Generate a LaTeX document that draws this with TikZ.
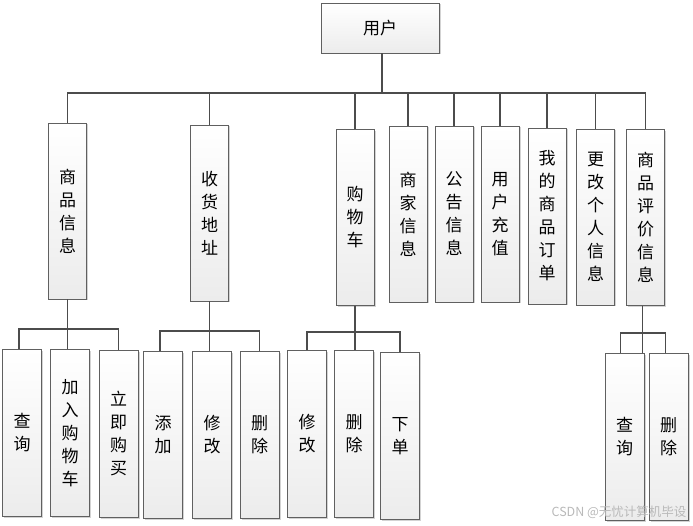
\documentclass[tikz,border=0pt]{standalone}
\usepackage{fontspec}
\newfontfamily\cjk{Noto Sans CJK SC}
\usetikzlibrary{calc,shadows}

\tikzset{
	box/.style={draw=gray!75!black, line width=0.9pt, top color=white, bottom color=gray!15,
		drop shadow={shadow xshift=1.5pt, shadow yshift=-1.5pt, opacity=0.35},
		inner sep=0pt, align=center, font=\cjk\fontsize{17}{23}\selectfont},
	tall/.style={box, minimum width=38pt, minimum height=176pt},
	leaf/.style={box, minimum width=39pt, minimum height=167pt},
	link/.style={draw=black!70, line width=1.3pt}
}

\begin{document}
\begin{tikzpicture}[x=1pt,y=-1pt]
	\useasboundingbox (0,0) rectangle (693,526);
	\node[box, minimum width=118pt, minimum height=50pt] (yh) at (380,28) {用户};
	\node[tall] (spxx) at (67.5,211) {商\\品\\信\\息};
	\node[tall] (shdz) at (209.5,213) {收\\货\\地\\址};
	\node[tall] (gwc) at (355,217.5) {购\\物\\车};
	\node[tall] (sjxx) at (408,214) {商\\家\\信\\息};
	\node[tall] (ggxx) at (454,214) {公\\告\\信\\息};
	\node[tall] (yhcz) at (500,214) {用\\户\\充\\值};
	\node[tall] (wddd) at (547,216) {我\\的\\商\\品\\订\\单};
	\node[tall] (grxx) at (595.5,217) {更\\改\\个\\人\\信\\息};
	\node[tall] (sppj) at (645.5,217.5) {商\\品\\评\\价\\信\\息};

	\node[leaf] (cx1) at (22,433) {查\\询};
	\node[leaf] (jrgwc) at (70,433) {加\\入\\购\\物\\车};
	\node[leaf] (ljgm) at (118.5,433.5) {立\\即\\购\\买};
	\node[leaf] (tj) at (163,435) {添\\加};
	\node[leaf] (xg1) at (212,435) {修\\改};
	\node[leaf] (sc1) at (259.5,435) {删\\除};
	\node[leaf] (xg2) at (307,434) {修\\改};
	\node[leaf] (sc2) at (354,434) {删\\除};
	\node[leaf] (xd) at (400,436) {下\\单};
	\node[leaf] (cx2) at (624.5,436.5) {查\\询};
	\node[leaf] (sc3) at (668.5,436.5) {删\\除};

	\coordinate (bus) at (0,93);
	\coordinate (b1) at (0,329);
	\coordinate (b2) at (0,331);
	\coordinate (b3) at (0,332);
	\coordinate (b4) at (0,333);

	\draw[link] ([xshift=2pt]yh.south) -- ([xshift=2pt]yh.south |- bus);
	\draw[link] (spxx.north) -- (spxx.north |- bus) -| (sppj.north);
	\foreach \n in {shdz,gwc,sjxx,ggxx,yhcz,wddd,grxx}
		\draw[link] (\n.north) -- (\n.north |- bus);

	\draw[link] (spxx.south) -- (spxx.south |- jrgwc.north);
	\draw[link] ([xshift=-3pt]cx1.north) -- ([xshift=-3pt]cx1.north |- b1) -| (ljgm.north);
	\draw[link] (shdz.south) -- (shdz.south |- xg1.north);
	\draw[link] ([xshift=-3pt]tj.north) -- ([xshift=-3pt]tj.north |- b2) -| (sc1.north);
	\draw[link] (gwc.south) -- (gwc.south |- sc2.north);
	\draw[link] (xg2.north) -- (xg2.north |- b3) -| (xd.north);
	\draw[link] ([xshift=-3pt]sppj.south) -- ([xshift=-3pt]sppj.south |- cx2.north);
	\draw[link] ([xshift=-4pt]cx2.north) -- ([xshift=-4pt]cx2.north |- b4) -| ([xshift=-3pt]sc3.north);

	\node[anchor=east, text=gray!55, font=\cjk\fontsize{12.5}{14}\selectfont] (wm) at (690,512) {CSDN @无忧计算机毕设};
\end{tikzpicture}
\end{document}
